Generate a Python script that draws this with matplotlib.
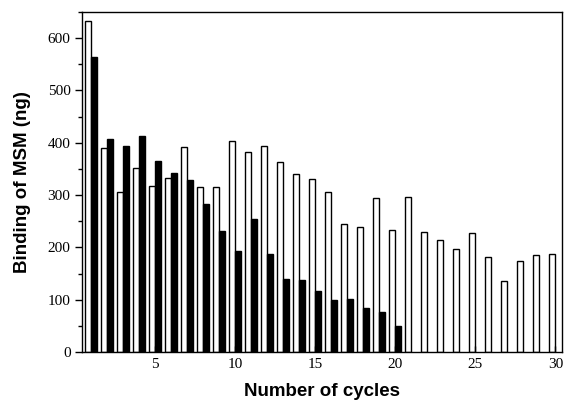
import numpy as np
import matplotlib
matplotlib.use('Agg')
import matplotlib.pyplot as plt
from matplotlib.ticker import MultipleLocator

# Datos
ciclos_blanco = list(range(1, 31))
valores_blanco = [632, 390, 305, 352, 317, 332, 391, 316, 315, 404,
                  382, 393, 363, 340, 330, 305, 245, 239, 295, 234,
                  297, 230, 214, 197, 227, 182, 137, 175, 185, 187]

ciclos_negro = list(range(1, 21))
valores_negro = [564, 408, 393, 413, 366, 342, 329, 283, 232, 194,
                 254, 188, 140, 138, 117, 100, 102, 84, 76, 51]

x_ticks = [5, 10, 15, 20, 25, 30]
y_ticks = [0, 100, 200, 300, 400, 500, 600]

fig = plt.figure(figsize=(5.64, 4.04), dpi=100)
ax = fig.add_axes([0.146, 0.128, 0.850, 0.843])

ancho = 0.37
# barras blancas a la izquierda del tick, negras a la derecha
ax.bar(np.array(ciclos_blanco), valores_blanco, width=-ancho, align='edge',
       color='white', edgecolor='black', linewidth=1.0)
ax.bar(np.array(ciclos_negro), valores_negro, width=ancho, align='edge',
       color='black', edgecolor='black', linewidth=1.0)

ax.set_xlim(0.45, 30.4)
ax.set_ylim(0, 650)
ax.set_xticks(x_ticks)
ax.set_yticks(y_ticks)
ax.yaxis.set_minor_locator(MultipleLocator(50))

ax.tick_params(axis='x', direction='in', length=4, width=1, pad=4)
ax.tick_params(axis='y', which='major', direction='out', length=5, width=1)
ax.tick_params(axis='y', which='minor', direction='out', length=3, width=1)
for lbl in ax.get_xticklabels() + ax.get_yticklabels():
    lbl.set_fontfamily('Liberation Serif')
    lbl.set_fontsize(11)

for s in ax.spines.values():
    s.set_linewidth(1.0)

ax.set_xlabel('Number of cycles', fontfamily='Liberation Sans',
              fontweight='bold', fontsize=13.5, labelpad=9)
ax.set_ylabel('Binding of MSM (ng)', fontfamily='Liberation Sans',
              fontweight='bold', fontsize=13.5, labelpad=12)

fig.savefig('out.png', dpi=100)
